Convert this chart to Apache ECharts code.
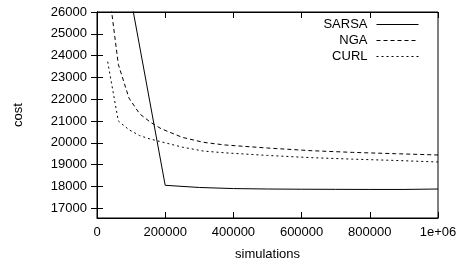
<!DOCTYPE html>
<html>
<head>
<meta charset="utf-8">
<script src="https://cdn.jsdelivr.net/npm/echarts@6/dist/echarts.min.js"></script>
<style>
html, body { margin: 0; padding: 0; background: #fff; }
#main { width: 467px; height: 269px; }
</style>
</head>
<body>
<div id="main"></div>
<script>
// data
var seriesNames = ['SARSA', 'NGA', 'CURL'];

var sarsaX = [100000, 200000, 300000, 400000, 500000, 600000, 700000, 800000, 900000, 1000000];
var sarsaY = [26560, 18050, 17950, 17900, 17880, 17870, 17865, 17860, 17860, 17880];

var ngaX = [31250, 62500, 93750, 125000, 156250, 187500, 250000, 312500, 375000, 500000, 625000, 750000, 875000, 1000000];
var ngaY = [27450, 23600, 22050, 21330, 20950, 20650, 20250, 20020, 19900, 19760, 19640, 19560, 19500, 19440];

var curlX = [31250, 62500, 93750, 125000, 156250, 187500, 250000, 312500, 375000, 500000, 625000, 750000, 875000, 1000000];
var curlY = [23720, 21000, 20600, 20330, 20170, 20050, 19800, 19620, 19540, 19420, 19320, 19250, 19190, 19120];

var yTicks = [17000, 18000, 19000, 20000, 21000, 22000, 23000, 24000, 25000, 26000];

function pairs(xs, ys) {
    var out = [];
    for (var i = 0; i < xs.length; i++) out.push([xs[i], ys[i]]);
    return out;
}

var font = 'Liberation Sans, Arial, sans-serif';
var myChart = echarts.init(document.getElementById('main'), null, {renderer: 'canvas'});

var lineSeries = function (name, data, type) {
    return {
        name: name,
        type: 'line',
        symbol: 'none',
        clip: true,
        data: data,
        lineStyle: { color: '#000', width: 1, type: type },
        itemStyle: { color: '#000' }
    };
};

option = {
    backgroundColor: '#fff',
    animation: false,
    grid: {
        left: 97,
        right: 29,
        top: 12,
        bottom: 51,
        show: true,
        borderColor: '#000',
        borderWidth: 1,
        containLabel: false
    },
    legend: {
        orient: 'vertical',
        align: 'right',
        right: 48,
        top: 18,
        padding: 0,
        itemWidth: 42,
        itemHeight: 13,
        itemGap: 3,
        itemStyle: { color: 'rgba(0,0,0,0)', borderWidth: 0 },
        lineStyle: { width: 1 },
        textStyle: { fontFamily: font, fontSize: 13, color: '#000', padding: [0, 4, 0, 0] },
        data: seriesNames
    },
    xAxis: [{
        type: 'value',
        min: 0,
        max: 1000000,
        interval: 200000,
        name: 'simulations',
        nameLocation: 'middle',
        nameGap: 30,
        nameTextStyle: { fontFamily: font, fontSize: 13, color: '#000' },
        axisLine: { show: true, lineStyle: { color: '#000', width: 1 } },
        axisTick: { inside: true, length: 6, lineStyle: { color: '#000' } },
        axisLabel: {
            margin: 8,
            fontFamily: font,
            fontSize: 13,
            color: '#000',
            formatter: function (v) { return v === 1000000 ? '1e+06' : String(v); }
        },
        splitLine: { show: false }
    }, {
        type: 'value',
        position: 'top',
        min: 0,
        max: 1000000,
        interval: 200000,
        axisLine: { show: true, lineStyle: { color: '#000', width: 1 } },
        axisTick: { inside: true, length: 6, lineStyle: { color: '#000' } },
        axisLabel: { show: false },
        splitLine: { show: false }
    }],
    yAxis: [{
        type: 'value',
        min: 16550,
        max: 26000,
        name: 'cost',
        nameLocation: 'middle',
        nameRotate: 90,
        nameGap: 72,
        nameTextStyle: { fontFamily: font, fontSize: 13, color: '#000' },
        axisLine: { show: true, lineStyle: { color: '#000', width: 1 } },
        axisTick: { inside: true, length: 6, customValues: yTicks, lineStyle: { color: '#000' } },
        axisLabel: {
            margin: 10,
            fontFamily: font,
            fontSize: 13,
            color: '#000',
            customValues: yTicks,
            formatter: function (v) { return String(v); }
        },
        splitLine: { show: false }
    }, {
        type: 'value',
        position: 'right',
        min: 16550,
        max: 26000,
        axisLine: { show: true, lineStyle: { color: '#000', width: 1 } },
        axisTick: { inside: true, length: 6, customValues: yTicks, lineStyle: { color: '#000' } },
        axisLabel: { show: false },
        splitLine: { show: false }
    }],
    series: [
        lineSeries(seriesNames[0], pairs(sarsaX, sarsaY), 'solid'),
        lineSeries(seriesNames[1], pairs(ngaX, ngaY), [4, 3]),
        lineSeries(seriesNames[2], pairs(curlX, curlY), [2, 3])
    ]
};

myChart.setOption(option);
</script>
</body>
</html>
